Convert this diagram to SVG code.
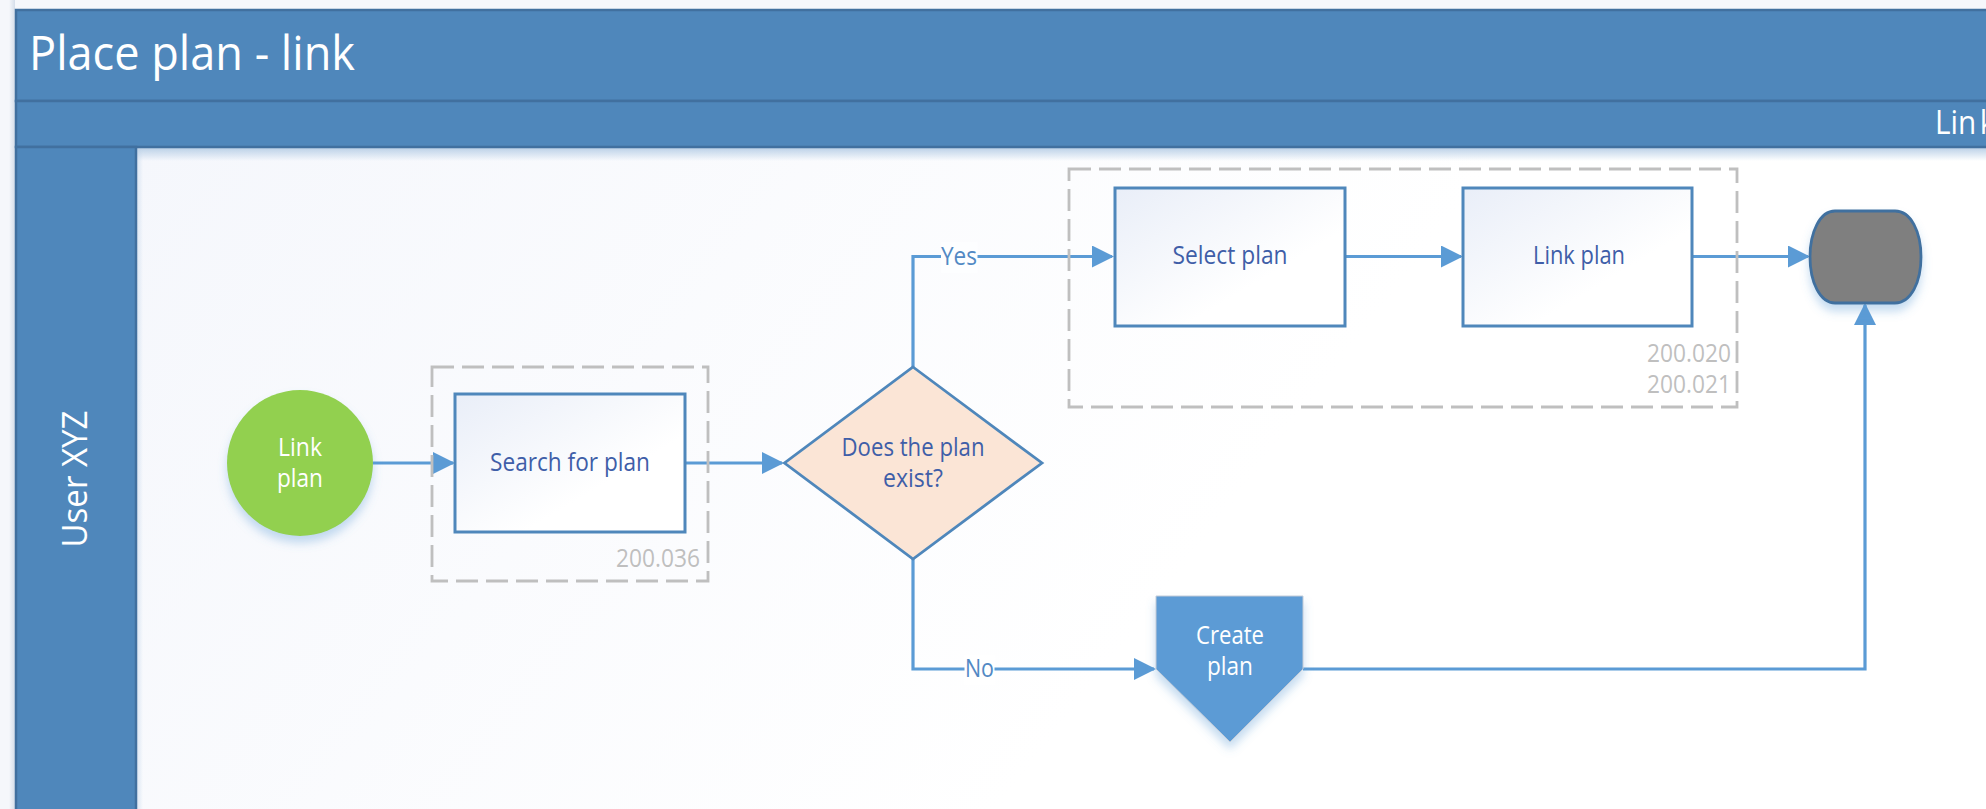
<svg xmlns="http://www.w3.org/2000/svg" width="1986" height="809" viewBox="0 0 1986 809">
<style>
.t{font-family:"Open Sans","Liberation Sans",sans-serif;text-anchor:middle}
.w{fill:#fff}
.b{fill:#3f5ea8}
.c{fill:#5289c4;font-size:25px}
.g{fill:#bfbfbf;font-size:25px;text-anchor:end}
.band{fill:#4f87bb;stroke:#41709f;stroke-width:2.5}
.proc{fill:url(#boxGrad);stroke:#4f87bb;stroke-width:3}
.dash{fill:none;stroke:#bfbfbf;stroke-width:2.8;stroke-dasharray:22 8}
.conn{fill:none;stroke:#5b9bd5;stroke-width:3.2;marker-end:url(#arrow)}
</style>
<defs>
<linearGradient id="bodyGrad" gradientUnits="userSpaceOnUse" x1="137" y1="148" x2="1000" y2="809"><stop offset="0" stop-color="#f5f7fc"/><stop offset="1" stop-color="#ffffff"/></linearGradient>
<linearGradient id="boxGrad" x1="0" y1="0" x2="1" y2="1"><stop offset="0" stop-color="#e9eef8"/><stop offset="0.65" stop-color="#ffffff"/></linearGradient>
<linearGradient id="topShade" x1="0" y1="0" x2="0" y2="1"><stop offset="0" stop-color="#bdd2e8"/><stop offset="1" stop-color="#bdd2e8" stop-opacity="0"/></linearGradient>
<linearGradient id="leftShade" x1="0" y1="0" x2="1" y2="0"><stop offset="0" stop-color="#bdd2e8" stop-opacity="0.55"/><stop offset="1" stop-color="#bdd2e8" stop-opacity="0"/></linearGradient>
<linearGradient id="outerShade" x1="1" y1="0" x2="0" y2="0"><stop offset="0" stop-color="#b4c4d8" stop-opacity="0.5"/><stop offset="1" stop-color="#b4c4d8" stop-opacity="0"/></linearGradient>
<filter id="shadow" x="-20%" y="-20%" width="140%" height="150%"><feDropShadow dx="0" dy="7" stdDeviation="5" flood-color="#5b9bd5" flood-opacity="0.35"/></filter>
<marker id="arrow" markerUnits="userSpaceOnUse" markerWidth="22" markerHeight="22" viewBox="0 0 22 22" refX="20" refY="11" orient="auto"><path d="M0 0L22 11L0 22Z" fill="#5b9bd5"/></marker>
</defs>
<rect width="1986" height="809" fill="#f5f7fb"/>
<rect x="9" y="0" width="6" height="809" fill="url(#outerShade)"/>
<rect x="136" y="148" width="1850" height="661" fill="url(#bodyGrad)"/>
<rect x="136" y="148" width="1850" height="13" fill="url(#topShade)"/>
<rect x="136" y="148" width="7" height="661" fill="url(#leftShade)"/>
<g id="pool">
<rect class="band" x="16" y="10" width="1975" height="91"/>
<rect class="band" x="16" y="101" width="1975" height="46"/>
<rect class="band" x="16" y="147" width="120" height="670"/>
<text class="t w" x="29" y="70" font-size="48" style="text-anchor:start" textLength="326" lengthAdjust="spacingAndGlyphs">Place plan - link</text>
<text class="t w" transform="translate(1935 134) scale(.9 1)" font-size="33" style="text-anchor:start">Lin<tspan dx="4">k</tspan></text>
<text class="t w" transform="translate(87 479) rotate(-90)" font-size="35" textLength="137" lengthAdjust="spacingAndGlyphs">User XYZ</text>
</g>
<g id="connectors">
<path class="conn" d="M373 463H453"/>
<path class="conn" d="M685 463H782"/>
<path class="conn" d="M913 367V256.500H1112"/>
<path class="conn" d="M1345 256.500H1461"/>
<path class="conn" d="M1692 256.500H1808"/>
<path class="conn" d="M913 559V669H1154"/>
<path class="conn" d="M1303 669H1865V305"/>
<rect x="941" y="242" width="36.500" height="31" fill="#fdfeff"/>
<rect x="964.500" y="655" width="30" height="30" fill="#ffffff"/>
<text class="t c" x="959" y="265" textLength="36" lengthAdjust="spacingAndGlyphs">Yes</text>
<text class="t c" x="979.500" y="677" textLength="29" lengthAdjust="spacingAndGlyphs">No</text>
</g>
<g id="group-200-036"><rect class="dash" x="432" y="367" width="276" height="214"/><text class="t g" x="700" y="567" textLength="84" lengthAdjust="spacingAndGlyphs">200.036</text></g>
<g id="group-200-020"><rect class="dash" x="1069" y="169" width="668" height="238"/><text class="t g" x="1731" y="362" textLength="84" lengthAdjust="spacingAndGlyphs">200.020</text><text class="t g" x="1731" y="393" textLength="84" lengthAdjust="spacingAndGlyphs">200.021</text></g>
<g id="start"><ellipse cx="300" cy="463" rx="73" ry="73" fill="#92d050" filter="url(#shadow)"/><text class="t w" x="300" y="456" font-size="25" textLength="44" lengthAdjust="spacingAndGlyphs">Link</text><text class="t w" x="300" y="487" font-size="25" textLength="46" lengthAdjust="spacingAndGlyphs">plan</text></g>
<g id="search"><rect class="proc" x="455" y="394" width="230" height="138"/><text class="t b" x="570" y="471" font-size="25" textLength="160" lengthAdjust="spacingAndGlyphs">Search for plan</text></g>
<g id="decision"><path d="M913 367L1042 463L913 559L784.500 463Z" fill="#fbe5d6" stroke="#4f87bb" stroke-width="2.8"/><text class="t b" x="913" y="456" font-size="25" textLength="143" lengthAdjust="spacingAndGlyphs">Does the plan</text><text class="t b" x="913" y="487" font-size="25" textLength="60" lengthAdjust="spacingAndGlyphs">exist?</text></g>
<g id="select"><rect class="proc" x="1115" y="188" width="230" height="138"/><text class="t b" x="1230" y="264" font-size="25" textLength="115" lengthAdjust="spacingAndGlyphs">Select plan</text></g>
<g id="link"><rect class="proc" x="1463" y="188" width="229" height="138"/><text class="t b" x="1579" y="264" font-size="25" textLength="92" lengthAdjust="spacingAndGlyphs">Link plan</text></g>
<g id="create"><path d="M1156 596H1303V669L1230 742L1156 669Z" fill="#5b9bd5" stroke="#c3ccd8" stroke-width="1" filter="url(#shadow)"/><text class="t w" x="1230" y="644" font-size="25" textLength="68" lengthAdjust="spacingAndGlyphs">Create</text><text class="t w" x="1230" y="675" font-size="25" textLength="46" lengthAdjust="spacingAndGlyphs">plan</text></g>
<g id="end"><path d="M1835 211H1895C1911 211 1921 232 1921 257C1921 282 1911 303 1895 303H1835C1820 303 1810 282 1810 257C1810 232 1820 211 1835 211Z" fill="#7f7f7f" stroke="#41709f" stroke-width="2.8" filter="url(#shadow)"/></g>
</svg>
